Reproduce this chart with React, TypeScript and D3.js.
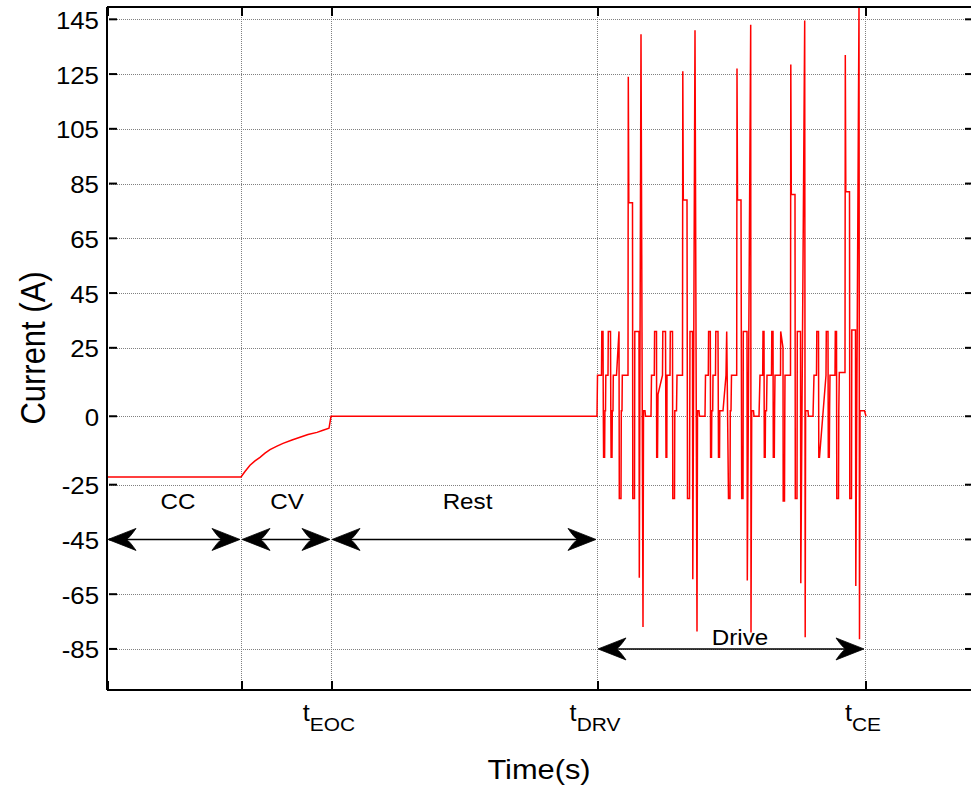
import React from 'react';
import * as d3 from 'd3';

const WIDTH = 971;
const HEIGHT = 785;
const FONT = "'Liberation Sans', Arial, Helvetica, sans-serif";

// plot box edges in page pixels
const BOX = { left: 107, right: 977, top: 7, bottom: 690 };

// axis ranges (time in seconds, current in amperes)
const timeDomain: [number, number] = [0, 8700];
const currentDomain: [number, number] = [-100, 149.5];

const yTickValues = [145, 125, 105, 85, 65, 45, 25, 0, -25, -45, -65, -85];
const xTickTimes = [0, 1340, 2240, 4900, 7580];
const xTickSubscripts = ['', '', 'EOC', 'DRV', 'CE'];

// test phases: names, spans, arrow level and label anchor
const phaseNames = ['CC', 'CV', 'Rest', 'Drive'];
const phaseStart = [0, 1340, 2240, 4900];
const phaseEnd = [1340, 2240, 4900, 7580];
const phaseArrowLevel = [-45, -45, -45, -85];
const phaseLabelTime = [710, 1800, 3605, 6330];
const phaseLabelLevel = [-34, -34, -34, -83.6];

// constant-current then constant-voltage charge
const chargeCurrent: [number, number][] = [
  [0, -22.2], [1340, -22.2], [1380, -20.2], [1430, -17.9], [1480, -16.3], [1530, -15],
  [1580, -13.5], [1630, -12.2], [1700, -10.9], [1760, -9.9], [1850, -8.7], [1930, -7.7],
  [2010, -6.7], [2100, -5.9], [2160, -5.1], [2220, -4.4], [2240, 0],
];

// open-circuit rest
const restCurrent: [number, number][] = [[2240, 0], [4900, 0]];

// repeated drive cycles
const driveCurrent: [number, number][] = [
  [4905, 15], [4945, 15], [4948, 31], [4960, 31], [4963, 2], [4966, -15], [4976, -15], [4979, 2],
  [4985, 2], [4988, 15], [5010, 15], [5013, 31], [5035, 31], [5038, 2], [5041, -15], [5050, -15],
  [5053, 2], [5060, 2], [5063, 15], [5095, 15], [5120, 31], [5123, -30], [5140, -30], [5143, 2],
  [5150, 2], [5153, 15], [5210, 15], [5213, 124], [5218, 78], [5255, 78], [5258, -30], [5275, -30],
  [5278, 31], [5320, 31], [5323, -59], [5340, 139.5], [5360, -77], [5365, 2], [5380, 2], [5385, 0],
  [5440, 0],

  [5445, 15], [5473, 15], [5476, 31], [5495, 31], [5497, -15], [5505, -15], [5510, 8], [5555, 15],
  [5558, 31], [5585, 31], [5590, -15], [5598, -15], [5600, 15], [5630, 15], [5633, 31], [5655, 31],
  [5658, -30], [5675, -30], [5678, 2], [5695, 2], [5700, 15], [5755, 15], [5758, 126], [5763, 79],
  [5800, 79], [5805, -30], [5825, -30], [5830, 31], [5855, 31], [5858, -59.5], [5880, 141],
  [5900, -78.6], [5905, 2], [5920, 2], [5925, 0], [5980, 0],

  [5985, 15], [6013, 15], [6016, 31], [6033, 31], [6036, -15], [6045, -15], [6048, 2], [6057, 2],
  [6060, 15], [6085, 15], [6088, 31], [6110, 31], [6115, -15], [6125, -15], [6128, 2], [6160, 2],
  [6190, 15], [6197, 31], [6215, -30], [6230, -30], [6233, 2], [6240, 2], [6245, 15], [6297, 15],
  [6300, 127], [6305, 79], [6340, 79], [6347, -30], [6360, -30], [6363, 31], [6400, 31],
  [6403, -60], [6437, 143], [6440, -79], [6447, 2], [6465, 2], [6470, 0], [6520, 0],

  [6530, 15], [6557, 15], [6560, 31], [6570, 31], [6573, -15], [6582, -15], [6585, 2], [6595, 2],
  [6600, 15], [6645, 15], [6648, 31], [6660, 31], [6663, -15], [6673, -15], [6676, 2], [6680, 15],
  [6735, 15], [6737, 31], [6760, 25], [6762, -31], [6775, -31], [6778, 2], [6780, 15], [6835, 15],
  [6838, 128.5], [6843, 81], [6880, 81], [6883, -30], [6900, -30], [6903, 31], [6935, 31],
  [6938, -61], [6977, 144.6], [6982, -80.7], [6986, 2], [7010, 2], [7015, 0], [7060, 0],

  [7070, 15], [7095, 15], [7098, 31], [7115, 31], [7118, -15], [7125, -15], [7190, 15], [7193, 31],
  [7210, 31], [7213, -15], [7223, -15], [7226, 2], [7230, 15], [7280, 15], [7283, 31], [7295, 31],
  [7298, -30], [7315, -30], [7318, 2], [7323, 16], [7380, 16], [7383, 132], [7388, 82], [7425, 82],
  [7428, -30], [7445, -30], [7448, 31.5], [7485, 31.5], [7488, -62], [7520, 150], [7525, -81.5],
  [7530, 2], [7575, 2], [7590, 0],
];

const currentSeries: [number, number][] = [...chargeCurrent, ...restCurrent, ...driveCurrent];

const TEXT_STRETCH = 1.1;

function ArrowHead({ tipX, y, dir }: { tipX: number; y: number; dir: number }) {
  const L = 28;
  const W = 22;
  const d = [
    `M${tipX},${y}`,
    `L${tipX - dir * L},${y - W / 2}`,
    `Q${tipX - dir * 0.78 * L},${y - 2} ${tipX - dir * 0.66 * L},${y}`,
    `Q${tipX - dir * 0.78 * L},${y + 2} ${tipX - dir * L},${y + W / 2}`,
    'Z',
  ].join(' ');
  return <path d={d} fill="#000" stroke="#000" strokeWidth={0.8} strokeLinejoin="miter" />;
}

export default function App() {
  const x = d3.scaleLinear().domain(timeDomain).range([BOX.left, BOX.right]);
  const y = d3.scaleLinear().domain(currentDomain).range([BOX.bottom, BOX.top]);

  const line = d3
    .line<[number, number]>()
    .x((d) => x(d[0]))
    .y((d) => y(d[1]));

  const gridColor = '#808080';

  return (
    <svg
      width={WIDTH}
      height={HEIGHT}
      viewBox={`0 0 ${WIDTH} ${HEIGHT}`}
      style={{ position: 'absolute', left: 0, top: 0, background: '#fff' }}
      fontFamily={FONT}
    >
      <defs>
        <clipPath id="plotClip">
          <rect x={BOX.left} y={BOX.top} width={BOX.right - BOX.left} height={BOX.bottom - BOX.top} />
        </clipPath>
      </defs>
      <rect x={0} y={0} width={WIDTH} height={HEIGHT} fill="#fff" />

      {/* grid */}
      <g stroke={gridColor} strokeWidth={1} strokeDasharray="1 1" fill="none">
        {yTickValues.map((v) => (
          <line key={`gy${v}`} x1={BOX.left} x2={BOX.right} y1={Math.round(y(v)) + 0.5} y2={Math.round(y(v)) + 0.5} />
        ))}
        {xTickTimes.slice(1).map((t) => (
          <line key={`gx${t}`} x1={Math.round(x(t)) + 0.5} x2={Math.round(x(t)) + 0.5} y1={BOX.top} y2={BOX.bottom} />
        ))}
      </g>

      {/* current trace */}
      <path
        d={line(currentSeries) ?? ''}
        fill="none"
        stroke="#ff0000"
        strokeWidth={1.5}
        strokeLinejoin="miter"
        clipPath="url(#plotClip)"
      />

      {/* phase arrows and labels */}
      {phaseNames.map((name, i) => {
        const x1 = x(phaseStart[i]);
        const x2 = x(phaseEnd[i]);
        const ay = y(phaseArrowLevel[i]);
        return (
          <g key={name}>
            <line x1={x1 + 10} x2={x2 - 10} y1={ay} y2={ay} stroke="#000" strokeWidth={1.5} />
            <ArrowHead tipX={x1 + 1} y={ay} dir={-1} />
            <ArrowHead tipX={x2 - 1} y={ay} dir={1} />
            <text
              transform={`translate(${x(phaseLabelTime[i])},${y(phaseLabelLevel[i])}) scale(${TEXT_STRETCH},1)`}
              textAnchor="middle"
              fontSize={22}
              fill="#000"
            >
              {name}
            </text>
          </g>
        );
      })}

      {/* axes box */}
      <g stroke="#000" strokeWidth={2} fill="none">
        <line x1={BOX.left} x2={BOX.left} y1={BOX.top} y2={BOX.bottom} />
        <line x1={BOX.left} x2={BOX.right} y1={BOX.top} y2={BOX.top} />
        <line x1={BOX.left} x2={BOX.right} y1={BOX.bottom} y2={BOX.bottom} />
        <line x1={BOX.right} x2={BOX.right} y1={BOX.top} y2={BOX.bottom} />
      </g>

      {/* ticks */}
      <g stroke="#000" strokeWidth={2}>
        {yTickValues.map((v) => (
          <g key={`ty${v}`}>
            <line x1={BOX.left + 2} x2={BOX.left + 10} y1={y(v)} y2={y(v)} />
            <line x1={BOX.right - 12} x2={BOX.right - 4} y1={y(v)} y2={y(v)} />
          </g>
        ))}
        {xTickTimes.map((t) => (
          <g key={`tx${t}`}>
            <line x1={x(t) + 1} x2={x(t) + 1} y1={BOX.top} y2={BOX.top + 9} />
            <line x1={x(t) + 1} x2={x(t) + 1} y1={BOX.bottom - 9} y2={BOX.bottom} />
          </g>
        ))}
      </g>

      {/* y tick labels */}
      {yTickValues.map((v) => (
        <text
          key={`ly${v}`}
          transform={`translate(99,${y(v) + 9.5}) scale(${TEXT_STRETCH},1)`}
          textAnchor="end"
          fontSize={23.5}
          fill="#000"
        >
          {v}
        </text>
      ))}

      {/* x tick labels */}
      {xTickTimes.map((t, i) =>
        xTickSubscripts[i] ? (
          <text
            key={`lx${t}`}
            transform={`translate(${x(t) - 2},721) scale(${TEXT_STRETCH},1)`}
            textAnchor="middle"
            fontSize={23}
            fill="#000"
          >
            t
            <tspan fontSize={19} dy={10}>
              {xTickSubscripts[i]}
            </tspan>
          </text>
        ) : null
      )}

      {/* axis titles */}
      <text
        transform={`translate(539,779) scale(${TEXT_STRETCH},1)`}
        textAnchor="middle"
        fontSize={28}
        fill="#000"
      >
        Time(s)
      </text>
      <text
        transform="translate(45,348) rotate(-90) scale(1,1.15)"
        textAnchor="middle"
        fontSize={31}
        fill="#000"
      >
        Current (A)
      </text>
    </svg>
  );
}
